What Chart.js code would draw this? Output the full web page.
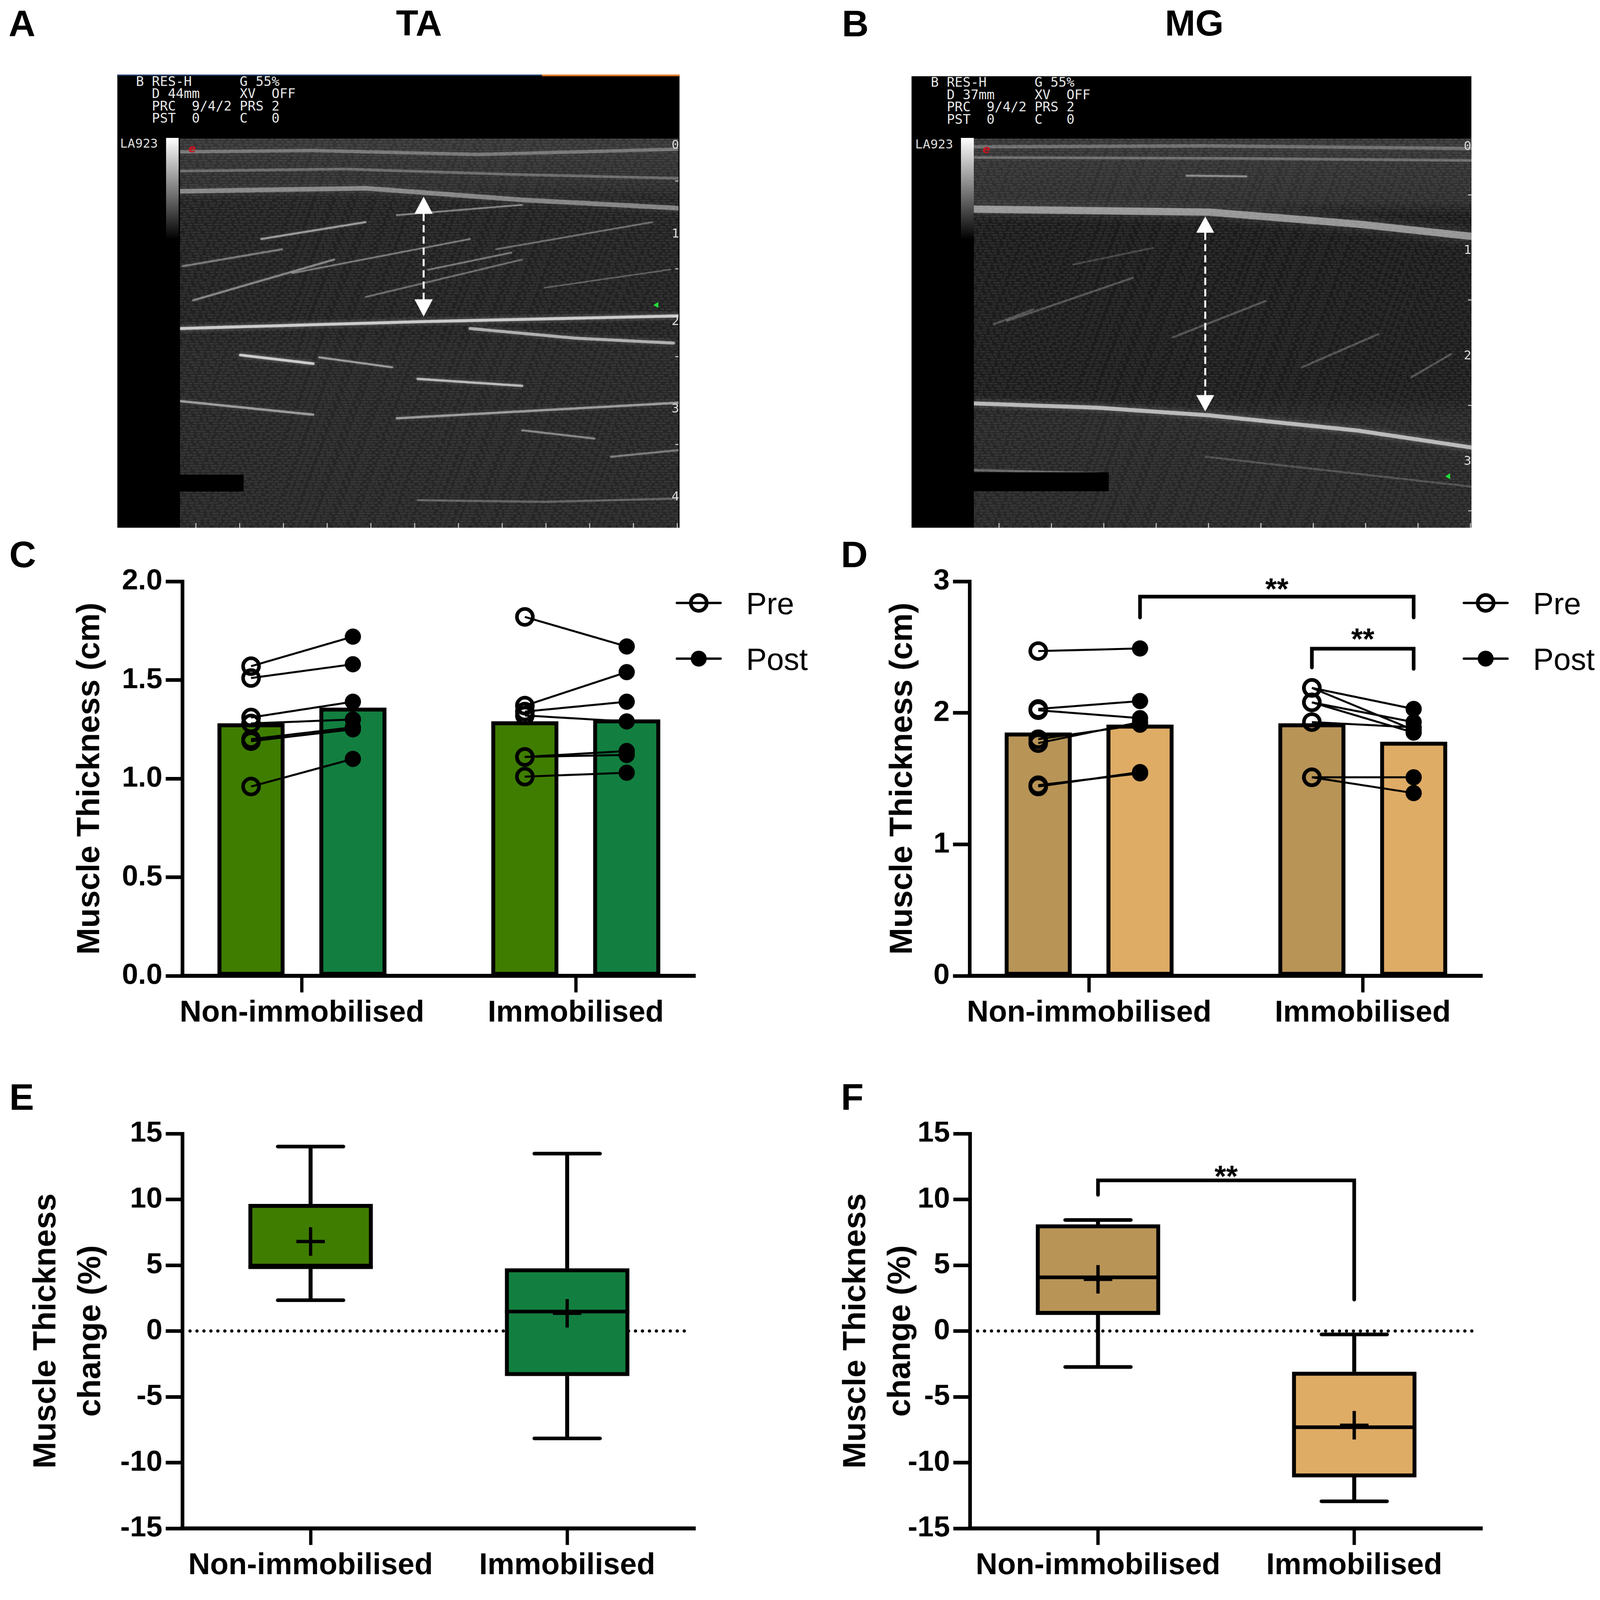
<!DOCTYPE html>
<html>
<head>
<meta charset="utf-8">
<script src="https://cdn.jsdelivr.net/npm/chart.js@4.4.1/dist/chart.umd.min.js"></script>
<style>
  html, body { margin: 0; padding: 0; background: #fff; overflow: hidden; }
  #page { position: relative; width: 4827px; height: 4763px; overflow: hidden; background: #fff;
          font-family: 'Liberation Sans', Arial, sans-serif; color: #000; transform-origin: 0 0; }
  .letter { position: absolute; font-weight: bold; font-size: 112px; line-height: 1; }
  .title { position: absolute; font-weight: bold; font-size: 110px; line-height: 1; width: 600px; text-align: center; }
  .scan { position: absolute; background: #000; }
  .scan canvas { position: absolute; }
  .hdr { position: absolute; font-family: 'DejaVu Sans Mono', monospace; font-size: 40px; line-height: 37px;
         color: #e6e6e6; white-space: pre; }
  .lbl { position: absolute; font-family: 'DejaVu Sans Mono', monospace; font-size: 38px; line-height: 38px; color: #dcdcdc; }
  .bar { position: absolute; background: linear-gradient(#fff, #000); }
  .ico { position: absolute; font: italic bold 34px 'DejaVu Sans', sans-serif; color: #c8141e; }
  canvas.chart { position: absolute; }
</style>
</head>
<body>
<div id="page">
  <div class="letter" style="left:26px;top:16px;">A</div>
  <div class="title" style="left:964px;top:14px;">TA</div>
  <div class="letter" style="left:2540px;top:16px;">B</div>
  <div class="title" style="left:3303px;top:14px;">MG</div>

  <div class="scan" style="left:354px;top:225px;width:1696px;height:1367px;">
    <div style="position:absolute;left:0;top:0;width:1281px;height:4px;background:#1d3b66;"></div>
    <div style="position:absolute;left:1281px;top:0;width:415px;height:5px;background:#e77a25;"></div>
    <div class="hdr" style="left:56px;top:2px;">B RES-H      G 55%
  D 44mm     XV  OFF
  PRC  9/4/2 PRS 2
  PST  0     C   0</div>
    <div class="lbl" style="left:8px;top:188px;">LA923</div>
    <div class="bar" style="left:147px;top:191px;width:38px;height:306px;"></div>
    <canvas id="scanA" width="1504" height="1174" style="left:189px;top:193px;"></canvas>
    <span class="ico" style="left:214px;top:203px;">e</span>
    <div class="lbl" style="left:1672px;top:192px;">0</div>
    <div class="lbl" style="left:1672px;top:459px;">1</div>
    <div class="lbl" style="left:1672px;top:724px;">2</div>
    <div class="lbl" style="left:1672px;top:988px;">3</div>
    <div class="lbl" style="left:1672px;top:1253px;">4</div>
  </div>

  <div class="scan" style="left:2750px;top:230px;width:1689px;height:1362px;">
    <div class="hdr" style="left:58px;top:0px;">B RES-H      G 55%
  D 37mm     XV  OFF
  PRC  9/4/2 PRS 2
  PST  0     C   0</div>
    <div class="lbl" style="left:11px;top:186px;">LA923</div>
    <div class="bar" style="left:149px;top:186px;width:39px;height:306px;"></div>
    <canvas id="scanB" width="1501" height="1174" style="left:188px;top:188px;"></canvas>
    <span class="ico" style="left:214px;top:200px;">e</span>
    <div class="lbl" style="left:1666px;top:190px;">0</div>
    <div class="lbl" style="left:1666px;top:504px;">1</div>
    <div class="lbl" style="left:1666px;top:822px;">2</div>
    <div class="lbl" style="left:1666px;top:1140px;">3</div>
  </div>

  <div class="letter" style="left:28px;top:1617px;">C</div>
  <div class="letter" style="left:2537px;top:1617px;">D</div>
  <div class="letter" style="left:28px;top:3254px;">E</div>
  <div class="letter" style="left:2537px;top:3254px;">F</div>

  <canvas id="chartC" class="chart" width="2450" height="1550" style="left:0px;top:1600px;"></canvas>
  <canvas id="chartD" class="chart" width="2377" height="1550" style="left:2450px;top:1600px;"></canvas>
  <canvas id="chartE" class="chart" width="2450" height="1513" style="left:0px;top:3250px;"></canvas>
  <canvas id="chartF" class="chart" width="2377" height="1513" style="left:2450px;top:3250px;"></canvas>
</div>

<script>
// fit the 4827 x 4763 figure into whatever CSS viewport the window reports
(function fitPage() {
  var s = Math.min(window.innerWidth / 4827, window.innerHeight / 4763);
  document.getElementById('page').style.transform = 'scale(' + s + ')';
})();

// ---- data ----
var groups = ['Non-immobilised', 'Immobilised'];

// C: TA muscle thickness (cm), 7 participants, pre -> post
var taBarPre = [1.28, 1.29];
var taBarPost = [1.36, 1.30];
var taNonPre = [1.57, 1.51, 1.31, 1.28, 1.20, 1.19, 0.96];
var taNonPost = [1.72, 1.58, 1.39, 1.30, 1.26, 1.25, 1.10];
var taImmPre = [1.82, 1.37, 1.34, 1.32, 1.11, 1.11, 1.01];
var taImmPost = [1.67, 1.54, 1.39, 1.29, 1.14, 1.12, 1.03];
var taTicks = [0, 0.5, 1.0, 1.5, 2.0];

// D: MG muscle thickness (cm)
var mgBarPre = [1.85, 1.92];
var mgBarPost = [1.91, 1.78];
var mgNonPre = [2.47, 2.03, 2.02, 1.80, 1.77, 1.44, 1.45];
var mgNonPost = [2.49, 2.09, 1.96, 1.91, 1.93, 1.55, 1.54];
var mgImmPre = [2.19, 2.19, 2.08, 2.08, 1.93, 1.51, 1.51];
var mgImmPost = [2.03, 1.87, 1.93, 1.85, 1.89, 1.51, 1.39];
var mgTicks = [0, 1, 2, 3];
// brackets: [x0, x1, top, leg0 end, leg1 end, label baseline]
var mgBrackets = [
  [0.186, 1.186, 2.884, 2.725, 2.725, 2.864],
  [0.814, 1.186, 2.488, 2.345, 2.335, 2.483]
];

// E: TA change (%)
var taChgMin = [2.34, -8.16];
var taChgQ1 = [4.82, -3.42];
var taChgMedian = [4.85, 1.48];
var taChgQ3 = [9.65, 4.76];
var taChgMax = [14.02, 13.48];
var taChgMean = [6.8, 1.35];

// F: MG change (%)
var mgChgMin = [-2.73, -12.94];
var mgChgQ1 = [1.23, -11.12];
var mgChgMedian = [4.08, -7.31];
var mgChgQ3 = [8.1, -3.1];
var mgChgMax = [8.44, -0.26];
var mgChgMean = [3.93, -7.16];
var mgChgBrackets = [
  [0, 1, 11.45, 10.35, 2.39, 10.97]
];
var changeTicks = [-15, -10, -5, 0, 5, 10, 15];

var taColors = ['#3f7d00', '#127f40'];
var mgColors = ['#b89457', '#dfac66'];

// ---- chart helpers ----
var FONT = "'Liberation Sans', Arial, sans-serif";
Chart.defaults.font.family = FONT;
Chart.defaults.color = '#000';

var BAR_OFFSET = 0.186;  // pre/post bar offset from group centre
var CAP = 0.128;         // half width of whisker caps
var BOX = 0.2425;        // half width of boxes

var pairLegend = {
  id: 'pairLegend',
  afterDraw: function (chart, args, opts) {
    var items = opts.items || [];
    var ctx = chart.ctx;
    var area = chart.chartArea;
    ctx.save();
    for (var i = 0; i < items.length; i++) {
      var cx = area.right + 10;
      var cy = area.top + 65 + i * 168;
      ctx.strokeStyle = '#000';
      ctx.lineWidth = 7;
      ctx.lineCap = 'round';
      ctx.beginPath();
      ctx.moveTo(cx - 66, cy);
      ctx.lineTo(cx + 66, cy);
      ctx.stroke();
      ctx.beginPath();
      ctx.arc(cx, cy, 24, 0, Math.PI * 2);
      if (items[i].filled) {
        ctx.fillStyle = '#000';
        ctx.fill();
      } else {
        ctx.lineWidth = 11;
        ctx.stroke();
      }
      ctx.fillStyle = '#000';
      ctx.font = '93px ' + FONT;
      ctx.textAlign = 'left';
      ctx.textBaseline = 'alphabetic';
      ctx.fillText(items[i].text, cx + 143, cy + 34);
    }
    ctx.restore();
  }
};

var sigLabels = {
  id: 'sigLabels',
  afterDatasetsDraw: function (chart, args, opts) {
    var items = opts.items || [];
    var ctx = chart.ctx;
    ctx.save();
    ctx.font = 'bold 90px ' + FONT;
    ctx.fillStyle = '#000';
    ctx.textAlign = 'center';
    ctx.textBaseline = 'alphabetic';
    for (var i = 0; i < items.length; i++) {
      var b = items[i];
      ctx.fillText('**', chart.scales.x.getPixelForValue((b[0] + b[1]) / 2), chart.scales.y.getPixelForValue(b[5]));
    }
    ctx.restore();
  }
};

function axisX(min, max, height) {
  return {
    type: 'linear', min: min, max: max, offset: false,
    border: { display: true, width: 12, color: '#000' },
    grid: { display: true, offset: false, drawOnChartArea: false, drawTicks: true,
            tickLength: 50, tickWidth: 10, tickColor: '#000' },
    ticks: { color: '#000', padding: 8, autoSkip: false, maxRotation: 0,
             font: { size: 91, weight: 'bold' },
             callback: function (value) { return groups[Math.round(value)]; } },
    afterBuildTicks: function (scale) {
      scale.ticks = groups.map(function (g, i) { return { value: i }; });
    },
    afterFit: function (scale) { scale.height = height; }
  };
}

function axisY(ticks, fmt, width, title, titleOffset, lineHeight) {
  return {
    type: 'linear', min: ticks[0], max: ticks[ticks.length - 1],
    border: { display: true, width: 11, color: '#000' },
    grid: { drawOnChartArea: false, drawTicks: true, tickLength: 50, tickWidth: 11, tickColor: '#000' },
    ticks: { color: '#000', padding: 10, autoSkip: false, font: { size: 88, weight: 'bold' }, callback: fmt },
    afterBuildTicks: function (scale) {
      scale.ticks = ticks.map(function (v) { return { value: v }; });
    },
    title: { display: true, text: title, color: '#000',
             font: { size: 97, weight: 'bold', lineHeight: lineHeight },
             padding: { top: titleOffset, bottom: 0 } },
    afterFit: function (scale) { scale.width = width; }
  };
}

function segment(p0, p1, width, order, cap) {
  return {
    type: 'line',
    data: [{ x: p0[0], y: p0[1] }, { x: p1[0], y: p1[1] }],
    borderColor: '#000', borderWidth: width, borderCapStyle: cap || 'butt',
    pointRadius: 0, order: order
  };
}

function bracketLine(b) {
  return {
    type: 'line',
    data: [{ x: b[0], y: b[3] }, { x: b[0], y: b[2] }, { x: b[1], y: b[2] }, { x: b[1], y: b[4] }],
    borderColor: '#000', borderWidth: 11, borderCapStyle: 'round', borderJoinStyle: 'miter',
    pointRadius: 0, order: 0
  };
}

function pairLines(pre, post, group) {
  return pre.map(function (v, i) {
    return segment([group - BAR_OFFSET, v], [group + BAR_OFFSET, post[i]], 6, 2);
  });
}

function markers(nonVals, immVals, dx, filled) {
  var pts = nonVals.map(function (v) { return { x: dx, y: v }; })
    .concat(immVals.map(function (v) { return { x: 1 + dx, y: v }; }));
  return {
    type: 'scatter', data: pts, pointStyle: 'circle', pointRadius: 24,
    pointBorderWidth: filled ? 1 : 11, pointBorderColor: '#000',
    pointBackgroundColor: filled ? '#000' : 'rgba(0,0,0,0)', order: 1
  };
}

function barPoints(pre, post) {
  var pts = [];
  groups.forEach(function (g, i) {
    pts.push({ x: i - BAR_OFFSET, y: pre[i] });
    pts.push({ x: i + BAR_OFFSET, y: post[i] });
  });
  return pts;
}

function pairedChart(id, o) {
  var datasets = [{
    type: 'bar', data: barPoints(o.barPre, o.barPost),
    backgroundColor: [o.colors[0], o.colors[1], o.colors[0], o.colors[1]],
    borderColor: '#000', borderWidth: 12, borderSkipped: false, barThickness: 202, order: 3
  }];
  datasets = datasets.concat(pairLines(o.nonPre, o.nonPost, 0), pairLines(o.immPre, o.immPost, 1));
  datasets.push(markers(o.nonPre, o.immPre, -BAR_OFFSET, false));
  datasets.push(markers(o.nonPost, o.immPost, BAR_OFFSET, true));
  o.brackets.forEach(function (b) { datasets.push(bracketLine(b)); });

  return new Chart(document.getElementById(id), {
    type: 'bar',
    data: { datasets: datasets },
    options: {
      responsive: false, devicePixelRatio: 1, animation: false, events: [],
      layout: { padding: o.padding },
      scales: {
        x: axisX(-0.437, 1.437, o.xHeight),
        y: axisY(o.ticks, o.fmt, o.yWidth, 'Muscle Thickness (cm)', o.titleOffset, 1.2)
      },
      plugins: {
        legend: { display: false }, tooltip: { enabled: false },
        pairLegend: { items: [{ text: 'Pre', filled: false }, { text: 'Post', filled: true }] },
        sigLabels: { items: o.brackets }
      }
    },
    plugins: [pairLegend, sigLabels]
  });
}

function boxChart(id, o) {
  var datasets = [];
  datasets.push({
    type: 'line', data: [{ x: -0.47, y: 0 }, { x: 1.48, y: 0 }],
    borderColor: '#000', borderWidth: 10, borderDash: [0, 21], borderCapStyle: 'round',
    pointRadius: 0, order: 10
  });
  datasets.push({
    type: 'bar',
    data: o.q1.map(function (q, i) { return { x: i, y: [q, o.q3[i]] }; }),
    backgroundColor: o.colors, borderColor: '#000', borderWidth: 12, borderSkipped: false,
    barThickness: 375, order: 4
  });
  o.q1.forEach(function (q, i) {
    datasets.push(segment([i, o.q3[i]], [i, o.max[i]], 12, 5));
    datasets.push(segment([i, q], [i, o.min[i]], 12, 5));
    datasets.push(segment([i - CAP, o.max[i]], [i + CAP, o.max[i]], 11, 5, 'round'));
    datasets.push(segment([i - CAP, o.min[i]], [i + CAP, o.min[i]], 11, 5, 'round'));
    datasets.push(segment([i - BOX, o.median[i]], [i + BOX, o.median[i]], 11, 2));
  });
  datasets.push({
    type: 'scatter', data: o.mean.map(function (m, i) { return { x: i, y: m }; }),
    pointStyle: 'cross', pointRadius: 43, pointBorderWidth: 10, pointBorderColor: '#000', order: 1
  });
  o.brackets.forEach(function (b) { datasets.push(bracketLine(b)); });

  return new Chart(document.getElementById(id), {
    type: 'bar',
    data: { datasets: datasets },
    options: {
      responsive: false, devicePixelRatio: 1, animation: false, events: [],
      layout: { padding: o.padding },
      scales: {
        x: axisX(-0.5, 1.5, o.xHeight),
        y: axisY(changeTicks, function (v) { return String(v); }, o.yWidth,
                 ['Muscle Thickness', 'change (%)'], o.titleOffset, 1.39)
      },
      plugins: {
        legend: { display: false }, tooltip: { enabled: false },
        sigLabels: { items: o.brackets }
      }
    },
    plugins: [sigLabels]
  });
}

pairedChart('chartC', {
  barPre: taBarPre, barPost: taBarPost, nonPre: taNonPre, nonPost: taNonPost,
  immPre: taImmPre, immPost: taImmPost, colors: taColors, brackets: [],
  ticks: taTicks, fmt: function (v) { return v.toFixed(1); },
  padding: { left: 0, top: 154, right: 352, bottom: 0 }, yWidth: 550, xHeight: 206, titleOffset: 214
});

pairedChart('chartD', {
  barPre: mgBarPre, barPost: mgBarPost, nonPre: mgNonPre, nonPost: mgNonPost,
  immPre: mgImmPre, immPost: mgImmPost, colors: mgColors, brackets: mgBrackets,
  ticks: mgTicks, fmt: function (v) { return String(v); },
  padding: { left: 0, top: 154, right: 355, bottom: 0 }, yWidth: 475, xHeight: 206, titleOffset: 216
});

boxChart('chartE', {
  min: taChgMin, q1: taChgQ1, median: taChgMedian, q3: taChgQ3, max: taChgMax, mean: taChgMean,
  colors: taColors, brackets: [],
  padding: { left: 0, top: 170, right: 352, bottom: 0 }, yWidth: 550, xHeight: 152, titleOffset: 73
});

boxChart('chartF', {
  min: mgChgMin, q1: mgChgQ1, median: mgChgMedian, q3: mgChgQ3, max: mgChgMax, mean: mgChgMean,
  colors: mgColors, brackets: mgChgBrackets,
  padding: { left: 0, top: 170, right: 355, bottom: 0 }, yWidth: 476, xHeight: 152, titleOffset: 66
});

// ---- ultrasound stills (decorative backdrop for panels A and B) ----
var SCAN_A = {
  bg: [[0, '#363636'], [0.12, '#2e2e2e'], [0.16, '#222222'], [0.48, '#212121'], [0.55, '#262626'], [1, '#272727']],
  streaks: [
    [0.35, 10, [[0, 40], [400, 36], [900, 48], [1504, 32]]],
    [0.30, 8, [[0, 98], [500, 92], [1000, 108], [1504, 120]]],
    [0.45, 14, [[0, 159], [560, 150], [1032, 185], [1504, 210]]],
    [0.80, 9, [[0, 573], [740, 552], [1504, 535]]],
    [0.65, 9, [[875, 573], [1190, 602], [1489, 617]]],
    [0.45, 6, [[40, 488], [465, 365]]],
    [0.40, 6, [[8, 385], [308, 334]]],
    [0.55, 6, [[245, 303], [560, 252]]],
    [0.40, 5, [[339, 406], [875, 303]]],
    [0.35, 5, [[560, 478], [1032, 365]]],
    [0.45, 5, [[654, 231], [1032, 200]]],
    [0.40, 5, [[748, 396], [1000, 344]]],
    [0.35, 5, [[953, 334], [1426, 252]]],
    [0.30, 4, [[1100, 450], [1480, 395]]],
    [0.80, 8, [[182, 653], [402, 679]]],
    [0.55, 6, [[420, 660], [640, 690]]],
    [0.70, 7, [[717, 725], [1032, 746]]],
    [0.55, 7, [[0, 792], [402, 833]]],
    [0.55, 7, [[654, 844], [1032, 823], [1504, 797]]],
    [0.45, 6, [[1032, 880], [1250, 905]]],
    [0.40, 6, [[1300, 960], [1504, 940]]],
    [0.30, 6, [[717, 1091], [1100, 1096], [1504, 1086]]]
  ],
  block: [0, 1014, 192, 51],
  arrow: [735, 175, 537, 55, 52],
  marker: [1437, 502],
  rightTicks: [128, 393, 658, 923],
  bottomTickStart: 48, bottomTickStep: 132
};

var SCAN_B = {
  bg: [[0, '#363636'], [0.16, '#2e2e2e'], [0.2, '#1b1b1b'], [0.66, '#1d1d1d'], [0.72, '#282828'], [1, '#272727']],
  streaks: [
    [0.30, 10, [[0, 25], [700, 22], [1501, 30]]],
    [0.30, 8, [[0, 57], [800, 60], [1501, 66]]],
    [0.45, 6, [[642, 112], [822, 114]]],
    [0.55, 22, [[0, 213], [710, 222], [1158, 258], [1501, 295]]],
    [0.70, 12, [[0, 799], [373, 812], [710, 835], [1158, 881], [1501, 932]]],
    [0.25, 6, [[60, 560], [180, 515]]],
    [0.25, 6, [[100, 550], [480, 420]]],
    [0.25, 6, [[600, 600], [880, 490]]],
    [0.25, 6, [[990, 690], [1220, 590]]],
    [0.25, 6, [[1320, 720], [1440, 650]]],
    [0.20, 5, [[300, 380], [540, 330]]],
    [0.30, 7, [[0, 1000], [380, 1010]]],
    [0.20, 6, [[700, 960], [1501, 1050]]]
  ],
  block: [0, 1007, 407, 57],
  arrow: [698, 235, 823, 54, 49],
  marker: [1431, 1019],
  rightTicks: [170, 487, 805, 1123],
  bottomTickStart: 76, bottomTickStep: 158
};

// speckle-like grain: rows of short dashes with fixed, shifted dash patterns
var GRAIN_DASHES = [[9, 14, 5, 11, 16, 8], [6, 10, 13, 7, 4, 15], [12, 6, 7, 17, 9, 9]];

function drawGrain(ctx, w, h) {
  ctx.save();
  ctx.strokeStyle = 'rgba(200,200,200,0.11)';
  ctx.lineWidth = 5;
  ctx.lineCap = 'round';
  for (var row = 0, y = 3; y < h; y += 8, row++) {
    ctx.setLineDash(GRAIN_DASHES[row % 3]);
    ctx.lineDashOffset = (row * 23) % 60;
    ctx.beginPath(); ctx.moveTo(0, y); ctx.lineTo(w, y); ctx.stroke();
  }
  ctx.restore();
}

function drawScan(id, scan) {
  var c = document.getElementById(id);
  var ctx = c.getContext('2d');
  var g = ctx.createLinearGradient(0, 0, 0, c.height);
  scan.bg.forEach(function (s) { g.addColorStop(s[0], s[1]); });
  ctx.fillStyle = g;
  ctx.fillRect(0, 0, c.width, c.height);
  drawGrain(ctx, c.width, c.height);

  scan.streaks.forEach(function (s) {
    ctx.save();
    ctx.strokeStyle = 'rgba(235,235,235,' + s[0] + ')';
    ctx.lineWidth = s[1];
    ctx.lineCap = 'round';
    ctx.lineJoin = 'round';
    ctx.shadowColor = 'rgba(255,255,255,' + (s[0] * 0.6) + ')';
    ctx.shadowBlur = s[1] * 1.5;
    ctx.beginPath();
    s[2].forEach(function (p, i) { if (i) ctx.lineTo(p[0], p[1]); else ctx.moveTo(p[0], p[1]); });
    ctx.stroke();
    ctx.restore();
  });

  ctx.fillStyle = '#000';
  ctx.fillRect(scan.block[0], scan.block[1], scan.block[2], scan.block[3]);

  // scale ticks on the right and bottom edges
  ctx.strokeStyle = '#cfcfcf';
  ctx.lineWidth = 3;
  scan.rightTicks.forEach(function (y) {
    ctx.beginPath(); ctx.moveTo(c.width - 10, y); ctx.lineTo(c.width, y); ctx.stroke();
  });
  for (var x = scan.bottomTickStart; x < c.width; x += scan.bottomTickStep) {
    ctx.beginPath(); ctx.moveTo(x, c.height - 14); ctx.lineTo(x, c.height); ctx.stroke();
  }

  // focus marker
  ctx.fillStyle = '#22e03a';
  ctx.beginPath();
  ctx.moveTo(scan.marker[0] - 9, scan.marker[1]);
  ctx.lineTo(scan.marker[0] + 6, scan.marker[1] - 9);
  ctx.lineTo(scan.marker[0] + 6, scan.marker[1] + 9);
  ctx.closePath();
  ctx.fill();

  // thickness arrow
  var ax = scan.arrow[0], top = scan.arrow[1], bottom = scan.arrow[2], hw = scan.arrow[3] / 2, hh = scan.arrow[4];
  ctx.fillStyle = '#fff';
  ctx.beginPath(); ctx.moveTo(ax, top); ctx.lineTo(ax - hw, top + hh); ctx.lineTo(ax + hw, top + hh); ctx.closePath(); ctx.fill();
  ctx.beginPath(); ctx.moveTo(ax, bottom); ctx.lineTo(ax - hw, bottom - hh); ctx.lineTo(ax + hw, bottom - hh); ctx.closePath(); ctx.fill();
  ctx.strokeStyle = '#fff';
  ctx.lineWidth = 6;
  ctx.setLineDash([22, 12]);
  ctx.beginPath(); ctx.moveTo(ax, top + hh); ctx.lineTo(ax, bottom - hh); ctx.stroke();
  ctx.setLineDash([]);
}

drawScan('scanA', SCAN_A);
drawScan('scanB', SCAN_B);
</script>
</body>
</html>
